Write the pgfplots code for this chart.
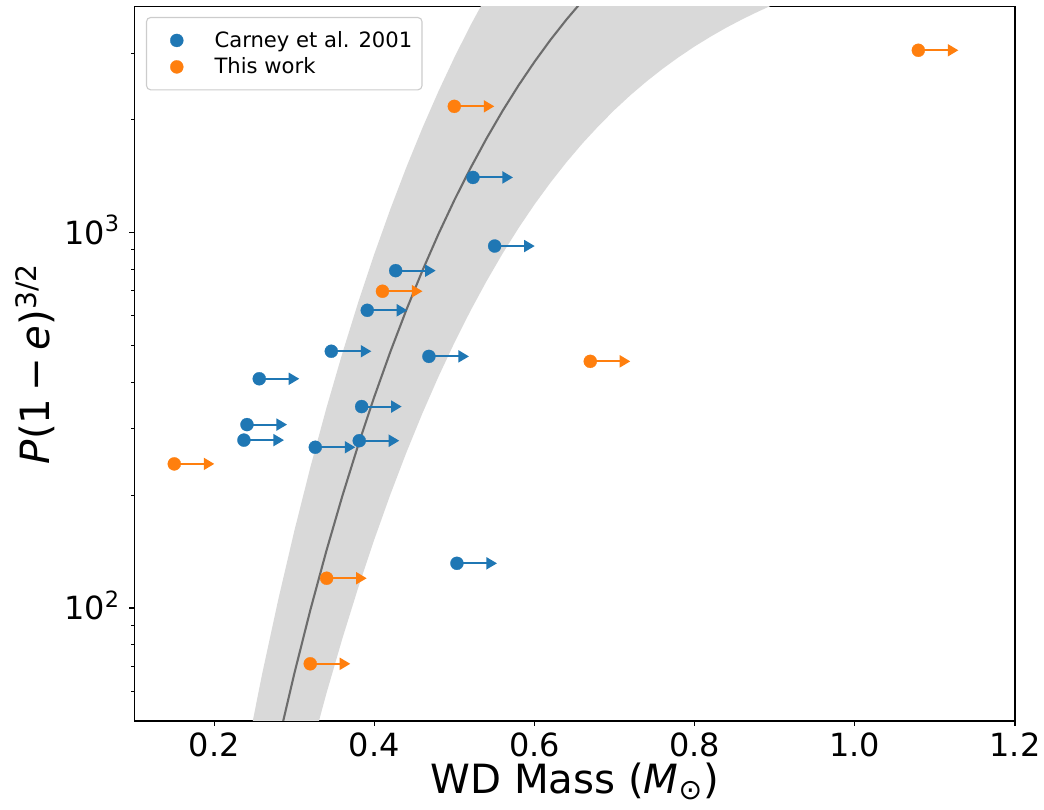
\documentclass[border=0pt]{standalone}
\usepackage{fontspec}
\setmainfont{DejaVu Sans}
\usepackage{pgfplots}
\pgfplotsset{compat=1.18}
\usepackage{pgfplotstable}
\usetikzlibrary{arrows.meta}

\definecolor{tabblue}{HTML}{1F77B4}
\definecolor{taborange}{HTML}{FF7F0E}
\definecolor{bandgray}{HTML}{D9D9D9}
\definecolor{curvegray}{HTML}{6C6C6C}

% WD mass lower limits and P(1-e)^{3/2}
\pgfplotstableread{
M P
0.4266 792
0.3911 621
0.3462 483
0.4681 468
0.2562 408
0.3841 344
0.2409 308
0.2371 280
0.3262 268
0.3811 279
0.5031 131.5
0.5231 1403
0.5502 921
}\carney

\pgfplotstableread{
M P
0.4998 2170
0.4101 698
0.6696 454
0.1501 242
0.3404 120
0.3199 71
1.0793 3061
}\thiswork

% P--M_WD relation (central curve)
\pgfplotstableread{
M P
0.26 27.91
0.28 43.94
0.30 66.85
0.32 98.72
0.34 141.8
0.36 198.8
0.38 272.5
0.40 365.9
0.42 481.8
0.44 623.1
0.46 792.2
0.48 991.4
0.50 1222
0.52 1485
0.54 1781
0.56 2109
0.58 2467
0.60 2853
0.62 3265
0.64 3699
0.66 4151
0.68 4619
}\relation

\pgfplotsset{
  limitarrow/.style={draw=none, mark=none, forget plot,
    error bars/.cd, x dir=plus, x fixed=0.05, error mark=none,
    error bar style={draw=#1, fill=#1, solid, line width=1.44pt,
      -{Triangle[length=7.6pt, width=8.6pt]}}},
}

\begin{document}
\begin{tikzpicture}
\begin{axis}[
  scale only axis,
  width=634.2pt, height=514.3pt,
  xmin=0.1, xmax=1.2,
  ymode=log, log basis y=10,
  ymin=50, ymax=4000,
  xtick={0.2,0.4,0.6,0.8,1.0,1.2},
  xticklabels={0.2,0.4,0.6,0.8,1.0,1.2},
  ytick={100,1000},
  yticklabels={10\textsuperscript{2},10\textsuperscript{3}},
  minor ytick={60,70,80,90,200,300,400,500,600,700,800,900,2000,3000},
  xtick pos=left, ytick pos=left,
  tick align=outside,
  major tick length=3.5pt, minor tick length=2pt,
  every tick/.style={black, line width=0.8pt},
  minor tick style={line width=0.6pt},
  axis line style={line width=0.8pt},
  tick label style={font=\fontsize{23}{27}\selectfont},
  xticklabel style={inner sep=0pt, anchor=north, yshift=-5pt},
  yticklabel style={inner sep=0pt, anchor=base east, xshift=-6.7pt, yshift=-8.4pt},
  every axis x label/.style={at={(axis description cs:0.5,0)}, yshift=-52pt, anchor=base},
  every axis y label/.style={at={(axis description cs:0,0.5)}, xshift=-61pt, rotate=90, anchor=base},
  label style={font=\fontsize{29}{34}\selectfont, inner sep=0pt},
  xlabel={WD Mass ({\itshape M}\textsubscript{⊙})},
  ylabel={{\itshape P}(1\hspace{0.18em}−\hspace{0.18em}{\itshape e})\textsuperscript{3/2}},
  legend style={at={(axis description cs:0,1)}, anchor=north west,
    xshift=8.5pt, yshift=-7.4pt,
    draw=black!20, line width=0.8pt, rounded corners=3pt, fill=white,
    font=\fontsize{15.2}{18}\selectfont,
    inner xsep=7pt, inner ysep=10pt, row sep=6pt, column sep=22pt,
    nodes={inner sep=0pt}, cells={anchor=west}},
  legend image code/.code={\path (0pt,0pt) (19.2pt,0pt); \draw[#1] plot coordinates {(14.4pt,0pt)};},
]
\coordinate (sw) at (rel axis cs:0,0);

% band around the relation
\addplot[fill=bandgray, draw=none, forget plot] coordinates {
 (0.20,13.23) (0.22,23.90) (0.24,40.94) (0.26,66.99) (0.28,105.4)
 (0.30,160.4) (0.32,236.9) (0.34,340.4) (0.36,477.2) (0.38,654.1)
 (0.40,878.1) (0.42,1156) (0.44,1495) (0.46,1901) (0.48,2379)
 (0.50,2933) (0.52,3565) (0.54,4274) (0.56,5061)
 (0.92,4233) (0.90,4064) (0.88,3888) (0.86,3707) (0.84,3521)
 (0.82,3329) (0.80,3134) (0.78,2934) (0.76,2732) (0.74,2529)
 (0.72,2326) (0.70,2124) (0.68,1924) (0.66,1730) (0.64,1541)
 (0.62,1360) (0.60,1189) (0.58,1028) (0.56,878.6) (0.54,742.0)
 (0.52,618.9) (0.50,509.3) (0.48,413.1) (0.46,330.1) (0.44,259.6)
 (0.42,200.7) (0.40,152.4) (0.38,113.6) (0.36,82.85) (0.34,59.09)
 (0.32,41.13) (0.30,27.86)
} -- cycle;

\addplot[curvegray, line width=1.5pt, forget plot] table[x=M, y=P] {\relation};

% lower-limit arrows
\addplot[limitarrow=tabblue] table[x=M, y=P] {\carney};
\addplot[limitarrow=taborange] table[x=M, y=P] {\thiswork};

\addplot[only marks, mark=*, mark size=4.7pt, color=tabblue,
  mark options={fill=tabblue, draw=tabblue, line width=0.2pt}] table[x=M, y=P] {\carney};
\addlegendentry{Carney et al. 2001}
\addplot[only marks, mark=*, mark size=4.7pt, color=taborange,
  mark options={fill=taborange, draw=taborange, line width=0.2pt}] table[x=M, y=P] {\thiswork};
\addlegendentry{This work}
\end{axis}
\pgfresetboundingbox
\path ([xshift=-96.6pt, yshift=-64.1pt]sw) rectangle ++(751.7pt,583.2pt);
\end{tikzpicture}
\end{document}
